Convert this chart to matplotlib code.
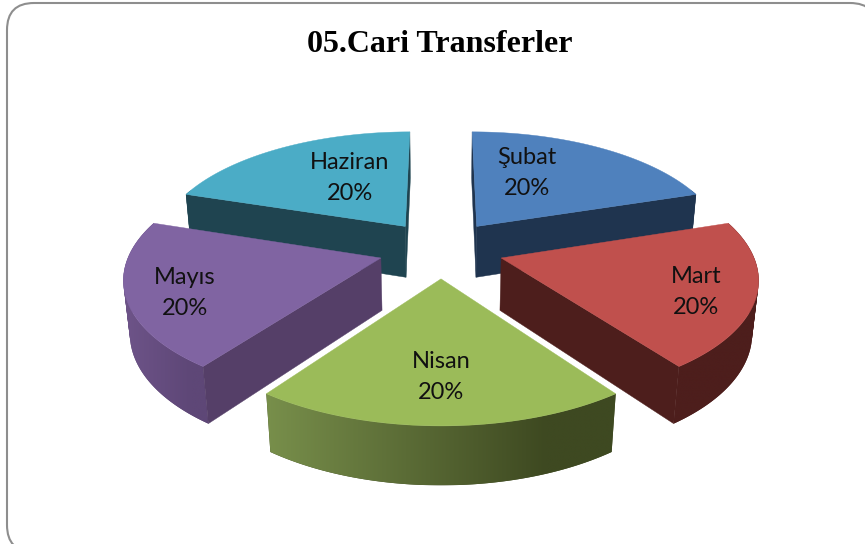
import numpy as np
import matplotlib
matplotlib.use("Agg")
import matplotlib.pyplot as plt
from matplotlib.patches import FancyBboxPatch, PathPatch, Polygon
from matplotlib.path import Path
from matplotlib.colors import to_rgb

# Datos del grafico
months = ["Şubat", "Mart", "Nisan", "Mayıs", "Haziran"]
values = [20, 20, 20, 20, 20]
title = "05.Cari Transferler"

# Estilos
top_colors = ["#4F81BD", "#C0504D", "#9BBB59", "#8064A2", "#4BACC6"]
face_colors = ["#1F344F", "#4D1E1C", "#3E4921", "#553F68", "#1F4450"]
arc_left = ["#1F344F", "#4D1E1C", "#788F4B", "#6E5489", "#1F4450"]
arc_right = ["#1F344F", "#4D1E1C", "#3E4921", "#5E4777", "#1F4450"]
label_pos = [(527, 173), (696, 292), (441, 377), (185, 293), (350, 178)]
draw_order = [4, 0, 3, 1, 2]

# Proyeccion en perspectiva (en pixeles de la imagen)
cx, cy = 441, 249
scale_x, scale_y, height = 250, 115, 53
depth_y, depth_z = 0.15, 0.02
explode = 0.25


def project(x, y, z):
    s = 1 / (1 + depth_y * y - depth_z * z)
    return cx + scale_x * x * s, cy - (scale_y * y + height * z) * s


def strip_path(xs, ys):
    # union de cuadrilateros con la misma orientacion (regla non-zero)
    verts, codes = [], []
    for j in range(len(xs) - 1):
        quad = [project(xs[j], ys[j], 0), project(xs[j + 1], ys[j + 1], 0),
                project(xs[j + 1], ys[j + 1], -1), project(xs[j], ys[j], -1)]
        q = np.array(quad)
        area = np.sum(q[:, 0] * np.roll(q[:, 1], -1) - np.roll(q[:, 0], -1) * q[:, 1])
        if area < 0:
            quad = quad[::-1]
        verts += quad + [quad[0]]
        codes += [Path.MOVETO, Path.LINETO, Path.LINETO, Path.LINETO, Path.CLOSEPOLY]
    return Path(verts, codes)


fig = plt.figure(figsize=(8.65, 5.44), dpi=100)
ax = fig.add_axes([0, 0, 1, 1])

# Marco redondeado
frame = FancyBboxPatch((34, 30), 816, 495, boxstyle="round,pad=27,rounding_size=27",
                       fc="white", ec="#8E8E8E", lw=1.5)
ax.add_patch(frame)

total = sum(values)
edges = np.cumsum([0] + values) / total * 2 * np.pi

for n, i in enumerate(draw_order):
    a0, a1 = edges[i], edges[i + 1]
    mid = (a0 + a1) / 2
    ox, oy = explode * np.sin(mid), explode * np.cos(mid)
    z_side = 2 + n * 3

    # Lado exterior con degradado
    ang = np.linspace(a0, a1, 121)
    xs = ox + np.sin(ang)
    ys = oy + np.cos(ang)
    front = np.cos(ang) < 0.35
    if front.any():
        path = strip_path(xs[front], ys[front])
        xmin, xmax = path.vertices[:, 0].min(), path.vertices[:, 0].max()
        ymin, ymax = path.vertices[:, 1].min(), path.vertices[:, 1].max()
        t = np.clip(np.linspace(0, 1, 256) / 0.8, 0, 1)[:, None]
        c0, c1 = np.array(to_rgb(arc_left[i])), np.array(to_rgb(arc_right[i]))
        grad = c0 + (c1 - c0) * t
        patch = PathPatch(path, fc=arc_right[i], ec="none", zorder=z_side)
        ax.add_patch(patch)
        im = ax.imshow(grad[None, :, :], extent=(xmin, xmax, ymax, ymin), aspect="auto",
                       interpolation="bilinear", zorder=z_side)
        im.set_clip_path(patch)

    # Caras radiales visibles
    for a, normal in ((a0, a0 - np.pi / 2), (a1, a1 + np.pi / 2)):
        if np.cos(normal) > 0.01:
            continue
        ex, ey = ox + np.sin(a), oy + np.cos(a)
        quad = [project(ox, oy, 0), project(ex, ey, 0),
                project(ex, ey, -1), project(ox, oy, -1)]
        ax.add_patch(Polygon(quad, fc=face_colors[i], ec=face_colors[i], lw=0.3, zorder=z_side + 1))

    # Cara superior
    top = [project(ox, oy, 0)] + [project(x, y, 0) for x, y in zip(xs, ys)]
    ax.add_patch(Polygon(top, fc=top_colors[i], ec=top_colors[i], lw=0.3, zorder=z_side + 2))

ax.set_xlim(0, 865)
ax.set_ylim(544, 0)
ax.axis("off")

# Etiquetas
for name, v, pos in zip(months, values, label_pos):
    ax.text(pos[0], pos[1], f"{name}\n{v / total * 100:.0f}%", ha="center", va="center",
            family=["Lato", "DejaVu Sans"], fontsize=17, color="#111111", linespacing=1.6, zorder=30)

ax.text(440, 44, title, ha="center", va="center", family="Liberation Serif",
        fontweight="bold", fontsize=23, color="black", zorder=30)

fig.savefig("out.png", dpi=100)
